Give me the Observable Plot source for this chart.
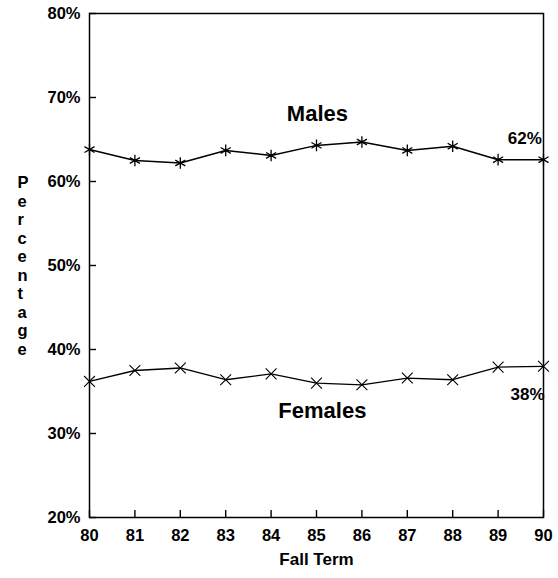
<!DOCTYPE html>
<html>
<head>
<meta charset="utf-8">
<script src="https://cdn.jsdelivr.net/npm/d3@7"></script>
<script src="https://cdn.jsdelivr.net/npm/@observablehq/plot@0.6"></script>
<style>
  html, body { margin: 0; padding: 0; background: #fff; }
  #chart svg { display: block; }
</style>
</head>
<body>
<div id="chart"></div>
<script>
const years = [80, 81, 82, 83, 84, 85, 86, 87, 88, 89, 90];
const males = [63.8, 62.5, 62.2, 63.7, 63.1, 64.3, 64.7, 63.7, 64.2, 62.6, 62.6];
const females = [36.2, 37.5, 37.8, 36.4, 37.1, 36.0, 35.8, 36.6, 36.4, 37.9, 38.0];
const yTicks = [20, 30, 40, 50, 60, 70, 80];
const xTicks = years;
const seriesNames = [
  {text: "Males", x: 85.02, y: 68.1},
  {text: "Females", x: 85.13, y: 32.7}
];
const endLabels = [
  {text: "62%", x: 89.59, y: 65.1},
  {text: "38%", x: 89.65, y: 34.6}
];
const yTitle = "Percentage";
const xTitle = "Fall Term";

const maleData = years.map((y, i) => ({year: y, value: males[i]}));
const femaleData = years.map((y, i) => ({year: y, value: females[i]}));

const font = "'Liberation Sans', Arial, Helvetica, sans-serif";

const chart = Plot.plot({
  width: 558,
  height: 578,
  marginLeft: 89,
  marginRight: 15,
  marginTop: 13,
  marginBottom: 61,
  style: {fontFamily: font, background: "white", color: "black"},
  x: {domain: [80, 90], axis: null},
  y: {domain: [20, 80], axis: null},
  marks: [
    Plot.frame({stroke: "black", strokeWidth: 1.5}),
    // inward ticks
    Plot.axisY(yTicks, {tickSize: 7, dx: 7, tickFormat: () => "", stroke: "black", strokeWidth: 1.4, label: null}),
    Plot.axisX(xTicks, {tickSize: 7, dy: -7, tickFormat: () => "", stroke: "black", strokeWidth: 1.4, label: null}),
    // tick labels
    Plot.axisY(yTicks, {tickSize: 0, tickPadding: 9, tickFormat: d => d + "%", fontSize: 16.5, fontWeight: "bold", label: null}),
    Plot.axisX(xTicks, {tickSize: 0, tickPadding: 12, fontSize: 16.5, fontWeight: "bold", label: null}),
    Plot.line(maleData, {x: "year", y: "value", stroke: "black", strokeWidth: 1.5}),
    Plot.dot(maleData, {x: "year", y: "value", symbol: "asterisk", r: 5.5, stroke: "black", strokeWidth: 1.3}),
    Plot.line(femaleData, {x: "year", y: "value", stroke: "black", strokeWidth: 1.3}),
    Plot.dot(femaleData, {x: "year", y: "value", symbol: "times", r: 5, stroke: "black", strokeWidth: 1.1}),
    Plot.text(seriesNames, {x: "x", y: "y", text: "text", fontSize: 22, fontWeight: "bold", fill: "black"}),
    Plot.text(endLabels, {x: "x", y: "y", text: "text", fontSize: 17, fontWeight: "bold", fill: "black"}),
    Plot.text([yTitle.split("").join("\n")], {frameAnchor: "left", dx: -72, fontSize: 16.5, fontWeight: "bold", lineHeight: 1.12, fill: "black"}),
    Plot.text([xTitle], {frameAnchor: "bottom", dy: 47, fontSize: 17, fontWeight: "bold", fill: "black"})
  ]
});
document.getElementById("chart").appendChild(chart);
</script>
</body>
</html>
